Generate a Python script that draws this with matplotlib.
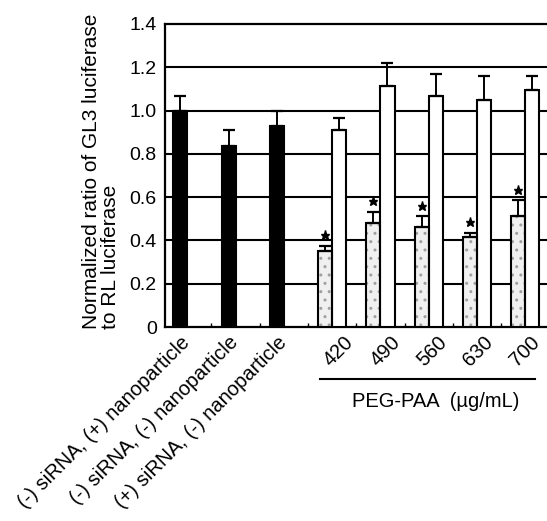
import matplotlib
matplotlib.use("Agg")
import matplotlib.pyplot as plt
import numpy as np

plt.rcParams['font.family'] = ['Liberation Sans', 'DejaVu Sans']

control_labels = ["(-) siRNA, (+) nanoparticle", "(-) siRNA, (-) nanoparticle",
                  "(+) siRNA, (-) nanoparticle"]
dose_labels = ["420", "490", "560", "630", "700"]

control_values = [1.00, 0.835, 0.927]
control_err = [0.066, 0.077, 0.070]

stippled_values = [0.349, 0.480, 0.460, 0.415, 0.515]
stippled_err = [0.027, 0.051, 0.051, 0.019, 0.070]

white_values = [0.912, 1.112, 1.069, 1.051, 1.093]
white_err = [0.054, 0.109, 0.102, 0.108, 0.066]

y_ticks = [0, 0.2, 0.4, 0.6, 0.8, 1.0, 1.2, 1.4]
y_tick_labels = ["0", "0.2", "0.4", "0.6", "0.8", "1.0", "1.2", "1.4"]

W, H = 547, 521
fig = plt.figure(figsize=(W / 100, H / 100), dpi=100)
ax = fig.add_axes([165 / W, 1 - 327 / H, 384.6 / W, 303 / H])

bw = 0.29
off = 0.145
lw = 1.5

xc = np.arange(3)
xd = np.arange(3, 8)

ax.bar(xc - off, control_values, width=bw, color='black', edgecolor='black', linewidth=lw, zorder=3)
# stippled bars: light gray speckle fill then outline
ax.bar(xd - off, stippled_values, width=bw, color='#f0f0f0', edgecolor='#a0a0a0', linewidth=0,
       hatch='..', zorder=3)
ax.bar(xd - off, stippled_values, width=bw, fill=False, edgecolor='black', linewidth=lw, zorder=4)
ax.bar(xd + off, white_values, width=bw, color='white', edgecolor='black', linewidth=lw, zorder=3)

ekw = dict(fmt='none', ecolor='black', elinewidth=1.4, capsize=4.5, capthick=1.6, zorder=5)
ax.errorbar(xc - off, control_values, yerr=[np.zeros(3), control_err], **ekw)
ax.errorbar(xd - off, stippled_values, yerr=[np.zeros(5), stippled_err], **ekw)
ax.errorbar(xd + off, white_values, yerr=[np.zeros(5), white_err], **ekw)

star_y = np.array(stippled_values) + np.array(stippled_err) + 0.05
ax.plot(xd - off, star_y, linestyle='none', marker='*', markersize=6.5, color='black', zorder=6)

ax.set_ylim(0, 1.4)
ax.set_xlim(-0.46, 7.5)
ax.set_yticks(y_ticks)
ax.set_yticklabels(y_tick_labels, fontsize=14)
ax.tick_params(axis='y', length=0, pad=6)
for y in y_ticks[1:-1]:
    ax.axhline(y, color='black', linewidth=1.5, zorder=1)

dose_pos = 3.245 + np.arange(5) * 0.963
ax.set_xticks(list(xc - off) + list(dose_pos))
ax.set_xticklabels(control_labels + dose_labels, rotation=45, ha='right',
                   rotation_mode='anchor', fontsize=14.5)
ax.tick_params(axis='x', which='major', length=0, pad=4)
ax.set_xticks(np.arange(0.5, 7.5, 1.0), minor=True)
ax.tick_params(axis='x', which='minor', direction='in', length=3, width=1)

for s in ax.spines.values():
    s.set_linewidth(1.6)
ax.spines['right'].set_visible(False)

ax.plot([2.75, 7.2], [-0.24, -0.24], color='black', linewidth=1.5, clip_on=False)
ax.text(5.15, -0.345, "PEG-PAA  (\u00b5g/mL)", ha='center', va='center', fontsize=14.5)

fig.text(101 / W, 1 - 171 / H, "Normalized ratio of GL3 luciferase\nto RL luciferase",
         rotation=90, ha='center', va='center', multialignment='left', fontsize=15,
         linespacing=1.0)

fig.savefig("out.png", dpi=100)
